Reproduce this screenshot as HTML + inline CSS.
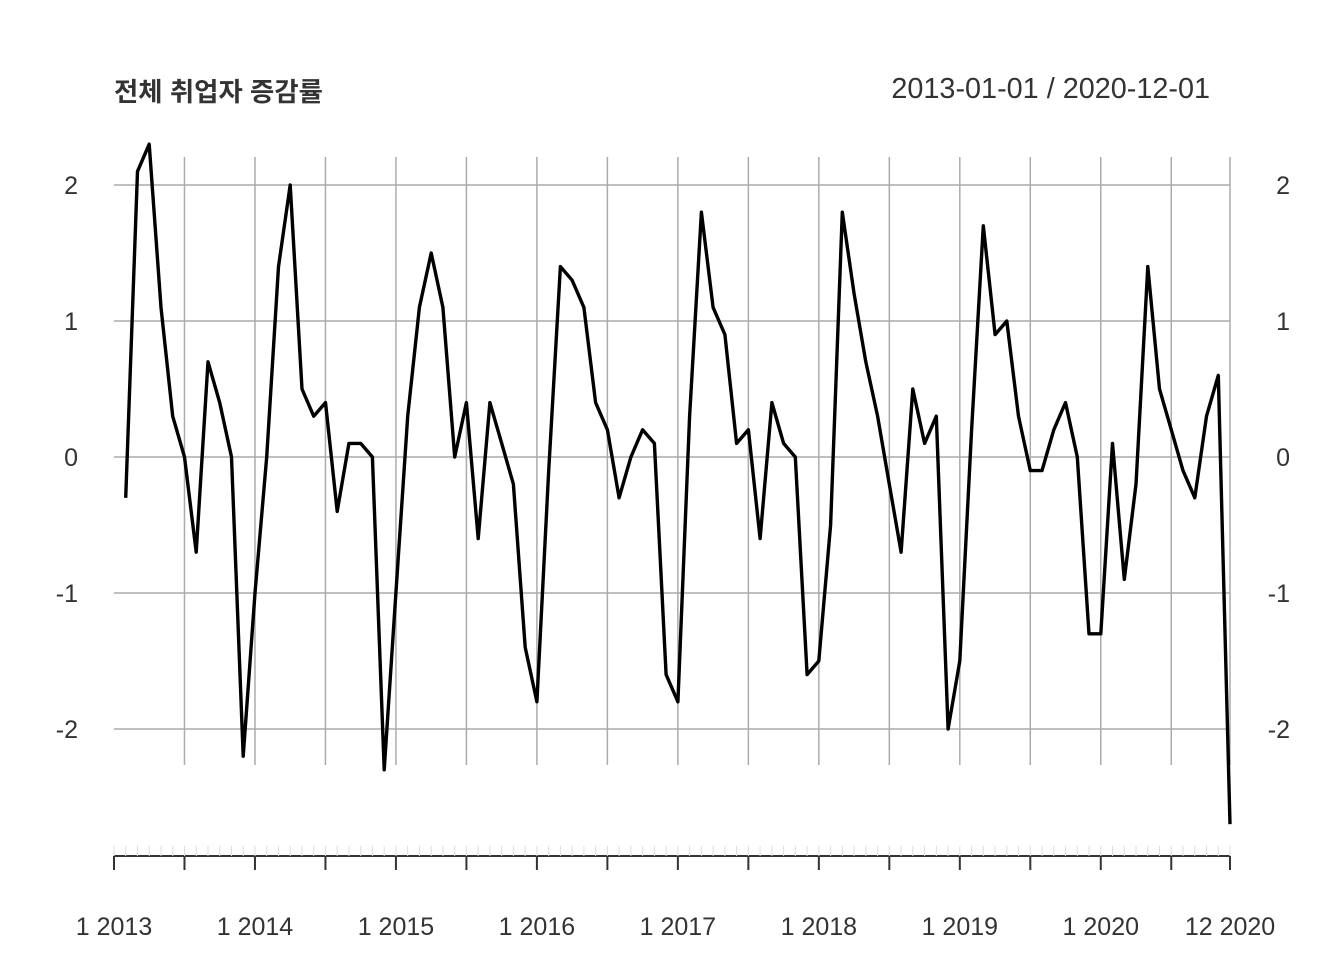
<!DOCTYPE html>
<html><head><meta charset="utf-8"><style>
body{margin:0;background:#fff}
svg text{font-family:"Liberation Sans","Noto Sans CJK KR",sans-serif;fill:#333}
</style></head><body>
<svg id="chart" width="1344" height="960" xmlns="http://www.w3.org/2000/svg">
<text x="114" y="101" font-size="26.4" font-weight="bold">전체 취업자 증감률</text>
<text x="1210" y="98" font-size="28.8" text-anchor="end">2013-01-01 / 2020-12-01</text>
<g id="grid"></g>
<g id="axes"></g>
<path id="line" fill="none" stroke="#000" stroke-width="3.4" stroke-linejoin="round"/>
</svg>
<script>
const values = [null,-0.3,2.1,2.3,1.1,0.3,0,-0.7,0.7,0.4,0,-2.2,-1.0,0,1.4,2.0,0.5,0.3,0.4,-0.4,0.1,0.1,0,-2.3,-1.0,
0.3,1.1,1.5,1.1,0,0.4,-0.6,0.4,0.1,-0.2,-1.4,-1.8,-0.1,1.4,1.3,1.1,0.4,0.2,-0.3,0,0.2,0.1,-1.6,-1.8,
0.3,1.8,1.1,0.9,0.1,0.2,-0.6,0.4,0.1,0,-1.6,-1.5,-0.5,1.8,1.2,0.7,0.3,-0.2,-0.7,0.5,0.1,0.3,-2.0,-1.5,
0.2,1.7,0.9,1.0,0.3,-0.1,-0.1,0.2,0.4,0,-1.3,-1.3,0.1,-0.9,-0.2,1.4,0.5,0.2,-0.1,-0.3,0.3,0.6,-2.7];
const yTicks = [2,1,0,-1,-2];
const xLabels = ["1 2013","1 2014","1 2015","1 2016","1 2017","1 2018","1 2019","1 2020","12 2020"];
const xLabelIdx = [0,12,24,36,48,60,72,84,95];
const NS="http://www.w3.org/2000/svg";
const x0=114,x1=1230;
function xs(i){return x0+i*(x1-x0)/(values.length-1);}
function ys(v){return 457-v*136;}
function mk(tag,attrs,parent){const e=document.createElementNS(NS,tag);for(const k in attrs)e.setAttribute(k,attrs[k]);parent.appendChild(e);return e;}
const grid=document.getElementById('grid'),axes=document.getElementById('axes');
yTicks.forEach(v=>{
  const l=mk('line',{x1:x0,x2:x1,y1:ys(v),y2:ys(v),stroke:'#ababab','stroke-width':1.5},grid);
  
  
  const t=mk('text',{x:78,y:ys(v)+9,'font-size':25,'text-anchor':'end'},axes);t.textContent=v;
  
  
  const t2=mk('text',{x:1290,y:ys(v)+9,'font-size':25,'text-anchor':'end'},axes);t2.textContent=v;
  
  
});
for(let i=6;i<values.length;i+=6){
  const l=mk('line',{x1:xs(i),x2:xs(i),y1:157,y2:765,stroke:'#ababab','stroke-width':1.5},grid);
  
  
}
const vl=mk('line',{x1:x1,x2:x1,y1:157,y2:765,stroke:'#ababab','stroke-width':1.5},grid);


const ax=mk('line',{x1:x0,x2:x1,y1:856,y2:856,stroke:'#333','stroke-width':2},axes);


for(let i=0;i<values.length;i++){
  const m=mk('line',{x1:xs(i),x2:xs(i),y1:846,y2:856,stroke:'#ddd','stroke-width':1},axes);
  
  
}
for(let i=0;i<values.length;i+=6){
  const m=mk('line',{x1:xs(i),x2:xs(i),y1:856,y2:870,stroke:'#333','stroke-width':2},axes);
  
  
}
const m2=mk('line',{x1:x1,x2:x1,y1:856,y2:870,stroke:'#333','stroke-width':2},axes);


xLabels.forEach((s,k)=>{
  const t=mk('text',{x:xs(xLabelIdx[k]),y:935,'font-size':25,'text-anchor':'middle'},axes);t.textContent=s;
  
  
});
let d='';values.forEach((v,i)=>{if(v===null)return;d+=(d?'L':'M')+xs(i).toFixed(1)+','+ys(v).toFixed(1);});
document.getElementById('line').setAttribute('d',d);
</script>
</body></html>
